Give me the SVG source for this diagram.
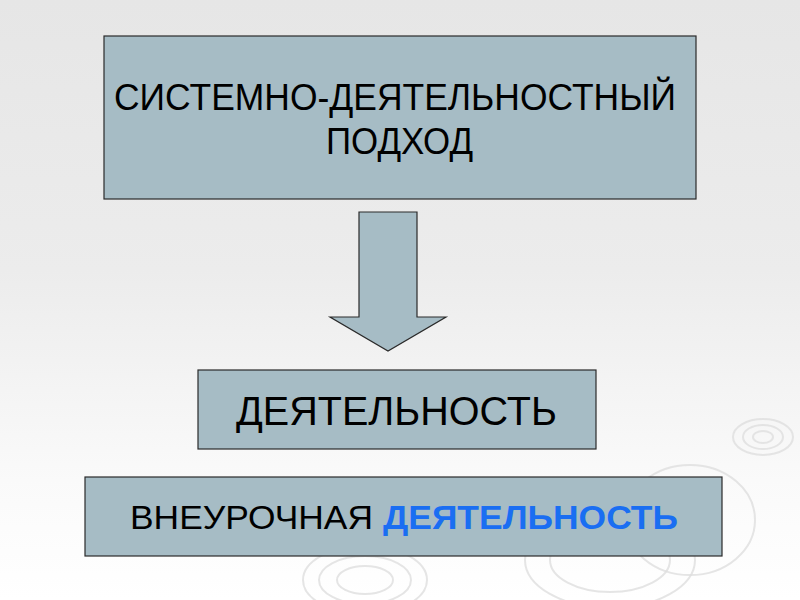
<svg xmlns="http://www.w3.org/2000/svg" width="800" height="600" viewBox="0 0 800 600">
<defs>
<linearGradient id="bg" x1="0" y1="0" x2="0" y2="1">
<stop offset="0" stop-color="#e6e6e6"/>
<stop offset="0.45" stop-color="#ececec"/>
<stop offset="0.8" stop-color="#fafafa"/>
<stop offset="1" stop-color="#ffffff"/>
</linearGradient>
</defs>
<style>
.box{fill:#a6bcc5;stroke:#2a2a2a;stroke-width:1.2}
.t{font-family:"Liberation Sans",Arial,sans-serif;fill:#000}
.rip{fill:none;stroke:#dedede;stroke-width:2;opacity:0.8}
</style>
<rect width="800" height="600" fill="url(#bg)"/>
<g id="ripples">
<ellipse class="rip" cx="763" cy="437" rx="10" ry="6"/>
<ellipse class="rip" cx="763" cy="437" rx="20" ry="12"/>
<ellipse class="rip" cx="763" cy="437" rx="30" ry="18"/>
<ellipse class="rip" cx="365" cy="580" rx="28" ry="14"/>
<ellipse class="rip" cx="365" cy="580" rx="46" ry="24"/>
<ellipse class="rip" cx="365" cy="580" rx="62" ry="34"/>
<ellipse class="rip" cx="610" cy="560" rx="60" ry="32"/>
<ellipse class="rip" cx="610" cy="560" rx="85" ry="48"/>
<ellipse class="rip" cx="690" cy="520" rx="65" ry="55"/>
</g>
<g id="node-approach">
<rect class="box" x="104" y="36" width="592" height="163"/>
<text class="t" x="114" y="110" font-size="36" textLength="562" lengthAdjust="spacingAndGlyphs">СИСТЕМНО-ДЕЯТЕЛЬНОСТНЫЙ</text>
<text class="t" x="326" y="154" font-size="36" textLength="147" lengthAdjust="spacingAndGlyphs">ПОДХОД</text>
</g>
<g id="connectors">
<polygon class="box" points="359,212 417,212 417,317 446,317 388,351 330,317 359,317"/>
</g>
<g id="node-activity">
<rect class="box" x="198" y="370" width="398" height="79"/>
<text class="t" x="236" y="425" font-size="41" textLength="321" lengthAdjust="spacingAndGlyphs">ДЕЯТЕЛЬНОСТЬ</text>
</g>
<g id="node-extracurricular">
<rect class="box" x="85" y="477" width="637" height="79"/>
<text class="t" x="130" y="529" font-size="34" textLength="243" lengthAdjust="spacingAndGlyphs">ВНЕУРОЧНАЯ</text>
<text class="t" x="383" y="529" font-size="34" font-weight="bold" fill="#1a6ef2" style="fill:#1a6ef2" textLength="295" lengthAdjust="spacingAndGlyphs">ДЕЯТЕЛЬНОСТЬ</text>
</g>
</svg>
